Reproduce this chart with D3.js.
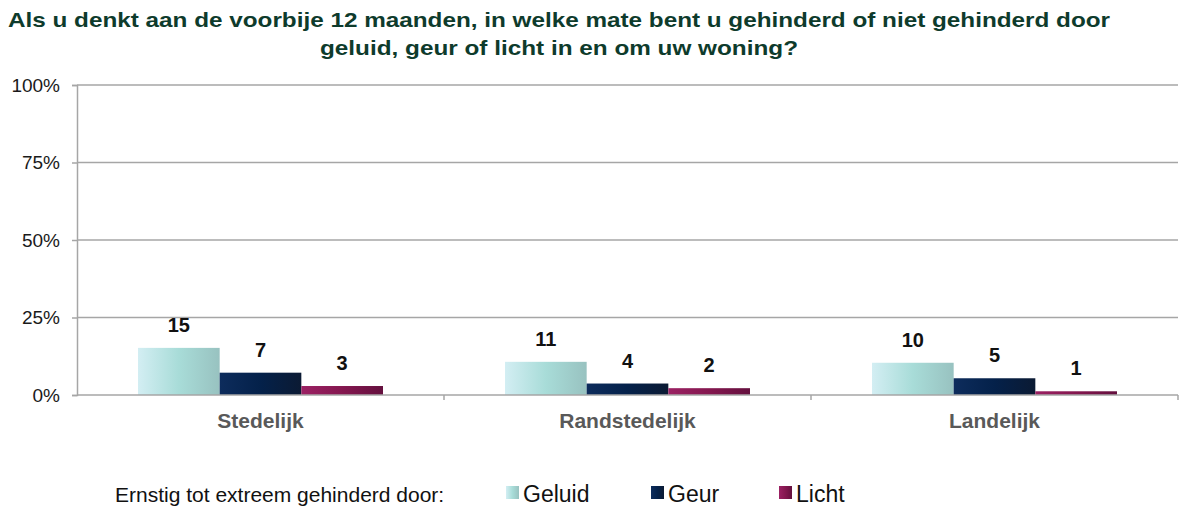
<!DOCTYPE html>
<html>
<head>
  <script src="https://d3js.org/d3.v7.min.js"></script>
  <style>
    body { margin: 0; background: #fff; }
    text { font-family: Arial, 'Liberation Sans', sans-serif; }
  </style>
</head>
<body>
<svg id="chart" width="1179" height="506"></svg>
<script>
  // data (percentages)
  const categories = ['Stedelijk', 'Randstedelijk', 'Landelijk'];
  const seriesNames = ['Geluid', 'Geur', 'Licht'];
  const geluid = [15.2, 10.7, 10.4];
  const geur = [7.2, 3.7, 5.4];
  const licht = [2.9, 2.2, 1.2];
  const yTicks = [0, 25, 50, 75, 100];
  const titleLines = [
    'Als u denkt aan de voorbije 12 maanden, in welke mate bent u gehinderd of niet gehinderd door',
    'geluid, geur of licht in en om uw woning?'
  ];
  const legendCaption = 'Ernstig tot extreem gehinderd door:';

  const seriesValues = [geluid, geur, licht];
  const rows = categories.map((c, i) => ({
    cat: c,
    vals: seriesNames.map((s, j) => ({ key: s, value: seriesValues[j][i] }))
  }));

  const svg = d3.select('#chart');
  const margin = { top: 85, left: 77, right: 1, bottom: 111 };
  const width = 1179 - margin.left - margin.right;
  const height = 506 - margin.top - margin.bottom;

  // gradients, light on the left, darker on the right
  const gradStops = {
    Geluid: ['#d3eef3', '#a8dcd8', '#98c2c0'],
    Geur: ['#0d2c5c', '#04214a', '#0b1a33'],
    Licht: ['#9b2163', '#84174f', '#64103e']
  };
  const defs = svg.append('defs');
  seriesNames.forEach(s => {
    const g = defs.append('linearGradient')
      .attr('id', 'grad-' + s)
      .attr('x1', '0%').attr('x2', '100%').attr('y1', '0%').attr('y2', '0%');
    gradStops[s].forEach((c, i) => {
      g.append('stop').attr('offset', (i * 50) + '%').attr('stop-color', c);
    });
  });

  const x0 = d3.scaleBand().domain(categories).range([0, width]);
  const groupPad = 61;
  const x1 = d3.scaleBand().domain(seriesNames)
    .range([groupPad, x0.bandwidth() - groupPad]);
  const y = d3.scaleLinear().domain([0, 100]).range([height, 0]);

  const chart = svg.append('g')
    .attr('transform', `translate(${margin.left},${margin.top})`);

  // gridlines
  chart.append('g')
    .selectAll('line')
    .data(yTicks.filter(d => d > 0))
    .join('line')
    .attr('x1', 0).attr('x2', width)
    .attr('y1', d => y(d)).attr('y2', d => y(d))
    .attr('stroke', '#a6a6a6').attr('stroke-width', 1.5);

  // y axis
  const yAxis = chart.append('g')
    .call(d3.axisLeft(y).tickValues(yTicks).tickSize(5).tickPadding(12)
      .tickFormat(d => d + '%'));
  yAxis.select('.domain').attr('stroke', '#a6a6a6').attr('stroke-width', 1.5);
  yAxis.selectAll('.tick line').attr('stroke', '#a6a6a6').attr('stroke-width', 1.5);
  yAxis.selectAll('.tick text')
    .attr('fill', '#1a1a1a').style('font-size', '19px');

  // bars
  const groups = chart.selectAll('.grp')
    .data(rows)
    .join('g')
    .attr('class', 'grp')
    .attr('transform', d => `translate(${x0(d.cat)},0)`);

  groups.selectAll('rect')
    .data(d => d.vals)
    .join('rect')
    .attr('x', d => x1(d.key))
    .attr('width', x1.bandwidth())
    .attr('y', d => y(d.value))
    .attr('height', d => height - y(d.value))
    .attr('fill', d => `url(#grad-${d.key})`);

  groups.selectAll('text.val')
    .data(d => d.vals)
    .join('text')
    .attr('class', 'val')
    .attr('x', d => x1(d.key) + x1.bandwidth() / 2)
    .attr('y', d => y(d.value) - 16)
    .attr('text-anchor', 'middle')
    .style('font-size', '20px')
    .style('font-weight', 'bold')
    .attr('fill', '#111')
    .text(d => Math.round(d.value));

  // x axis
  const xAxis = chart.append('g')
    .attr('transform', `translate(0,${height})`)
    .call(d3.axisBottom(x0).tickSize(0).tickPadding(18));
  xAxis.select('.domain').remove();
  chart.append('line')
    .attr('x1', 0).attr('x2', width)
    .attr('y1', height).attr('y2', height)
    .attr('stroke', '#a6a6a6').attr('stroke-width', 1.5);
  chart.append('g')
    .selectAll('line')
    .data(categories.map((c, i) => x0(c) + x0.bandwidth()))
    .join('line')
    .attr('x1', d => d).attr('x2', d => d)
    .attr('y1', height).attr('y2', height + 5)
    .attr('stroke', '#a6a6a6').attr('stroke-width', 1.5);
  xAxis.selectAll('.tick text')
    .attr('fill', '#595959')
    .style('font-size', '21px')
    .style('font-weight', 'bold');

  // title, stretched to the width of the original
  const titleWidths = [1102, 478];
  svg.append('g')
    .selectAll('text')
    .data(titleLines)
    .join('text')
    .attr('x', 559)
    .attr('y', (d, i) => 27 + i * 28)
    .attr('text-anchor', 'middle')
    .attr('textLength', (d, i) => titleWidths[i])
    .attr('lengthAdjust', 'spacingAndGlyphs')
    .attr('fill', '#0e3b2c')
    .style('font-size', '21px')
    .style('font-weight', 'bold')
    .text(d => d);

  // legend
  svg.append('text')
    .attr('x', 115).attr('y', 502)
    .style('font-size', '21px')
    .attr('fill', '#111')
    .text(legendCaption);

  const legendX = [506, 651, 779];
  const legend = svg.append('g')
    .selectAll('g')
    .data(seriesNames)
    .join('g')
    .attr('transform', (d, i) => `translate(${legendX[i]},486)`);
  legend.append('rect')
    .attr('width', 13).attr('height', 13)
    .attr('fill', d => `url(#grad-${d})`);
  legend.append('text')
    .attr('x', 17).attr('y', 16)
    .style('font-size', '23px')
    .attr('fill', '#111')
    .text(d => d);
</script>
</body>
</html>
